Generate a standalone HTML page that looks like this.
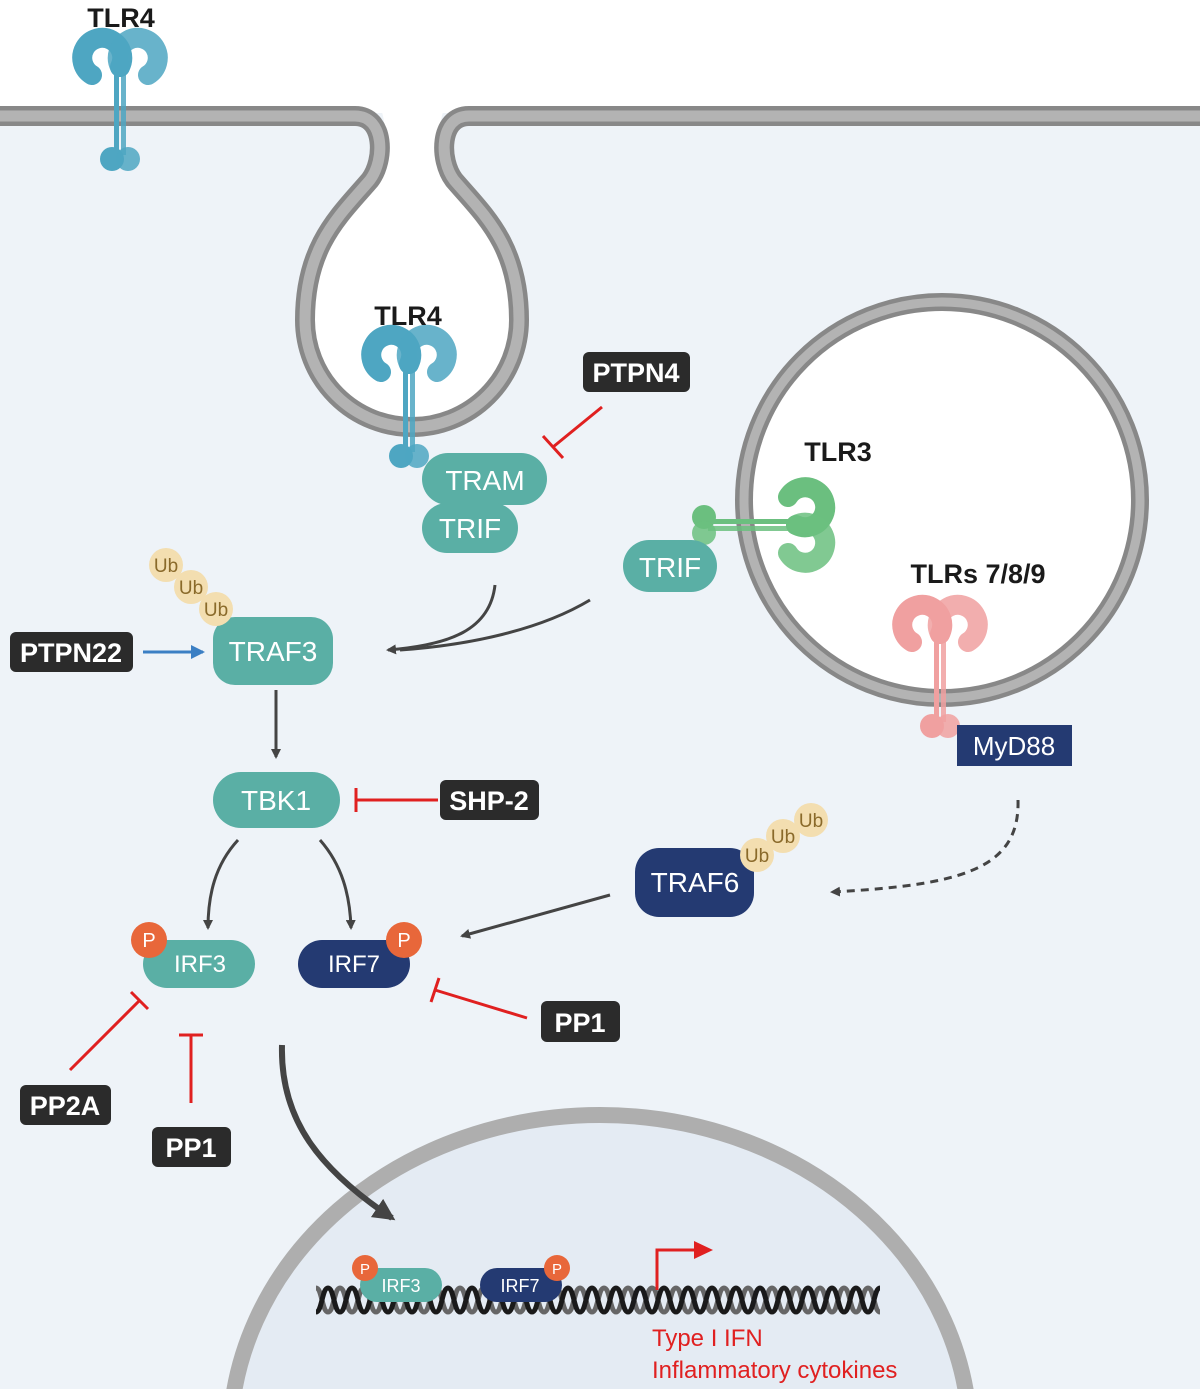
<!DOCTYPE html>
<html><head><meta charset="utf-8"><style>
html,body{margin:0;padding:0;background:#fff;width:1200px;height:1389px;overflow:hidden}
svg{display:block}
text{font-family:"Liberation Sans",sans-serif}
</style></head><body>
<svg width="1200" height="1389" viewBox="0 0 1200 1389" xmlns="http://www.w3.org/2000/svg">
<defs>
<marker id="ah" markerWidth="10" markerHeight="10" refX="8" refY="5" orient="auto" markerUnits="userSpaceOnUse"><path d="M0,0 L10,5 L0,10 Z" fill="#444"/></marker>
<marker id="ahb" markerWidth="14" markerHeight="14" refX="12" refY="7" orient="auto" markerUnits="userSpaceOnUse"><path d="M0,0 L14,7 L0,14 Z" fill="#3b7fc4"/></marker>
<marker id="ahl" markerWidth="22" markerHeight="22" refX="18" refY="11" orient="auto" markerUnits="userSpaceOnUse"><path d="M0,0 L22,11 L0,22 Z" fill="#444"/></marker>
<pattern id="dna" x="316" y="1282" width="24" height="36" patternUnits="userSpaceOnUse">
<path d="M0,6 C6,6 6,30 12,30 C18,30 18,6 24,6" fill="none" stroke="#666" stroke-width="5"/>
<path d="M-6,18 M0,30 C6,30 6,6 12,6 C18,6 18,30 24,30" fill="none" stroke="#1a1a1a" stroke-width="5"/>
</pattern>
<g id="rec">
<path d="M-28,-10 a20,20 0 1 1 28,-8" fill="none" stroke="currentColor" stroke-width="20" stroke-linecap="round"/>
<path d="M28,-10 a20,20 0 1 0 -28,-8" fill="none" stroke="currentColor" stroke-width="20" stroke-linecap="round" opacity="0.85"/>
<rect x="-6" y="-12" width="5" height="82" fill="currentColor"/>
<rect x="1" y="-12" width="5" height="82" fill="currentColor" opacity="0.85"/>
<circle cx="-8" cy="74" r="12" fill="currentColor"/>
<circle cx="8" cy="74" r="12" fill="currentColor" opacity="0.85"/>
</g>
</defs>
<rect width="1200" height="1389" fill="#eef3f8"/>
<rect width="1200" height="113" fill="#fff"/>
<path d="M345,100 L375,100 C395,120 380,180 360,200 C310,240 300,270 300,320 A112,112 0 0 0 524,320 C524,270 514,240 464,200 C444,180 430,120 450,100 Z" fill="#fff"/>
<path d="M0,116 L355,116 C385,116 385,160 370,180 C340,215 305,245 305,320 A107,107 0 0 0 519,320 C519,245 484,215 454,180 C439,160 439,116 469,116 L1200,116" fill="none" stroke="#888" stroke-width="20"/>
<path d="M0,116 L355,116 C385,116 385,160 370,180 C340,215 305,245 305,320 A107,107 0 0 0 519,320 C519,245 484,215 454,180 C439,160 439,116 469,116 L1200,116" fill="none" stroke="#b3b3b3" stroke-width="11"/>
<circle cx="942" cy="500" r="198" fill="#fff" stroke="#888" stroke-width="18"/>
<circle cx="942" cy="500" r="198" fill="none" stroke="#b3b3b3" stroke-width="9"/>
<ellipse cx="600" cy="1440" rx="370" ry="325" fill="#e4ebf3" stroke="#aeaeae" stroke-width="16"/>
<use href="#rec" transform="translate(120,85)" style="color:#4ea6c2"/>
<use href="#rec" transform="translate(409,382)" style="color:#4ea6c2"/>
<use href="#rec" transform="translate(778,525) rotate(90)" style="color:#6bbf7f"/>
<use href="#rec" transform="translate(940,652)" style="color:#f0a0a0"/>
<text x="121" y="27" font-size="27" font-weight="bold" text-anchor="middle" fill="#1a1a1a">TLR4</text>
<text x="408" y="325" font-size="27" font-weight="bold" text-anchor="middle" fill="#1a1a1a">TLR4</text>
<text x="838" y="461" font-size="27" font-weight="bold" text-anchor="middle" fill="#1a1a1a">TLR3</text>
<text x="978" y="583" font-size="27" font-weight="bold" text-anchor="middle" fill="#1a1a1a">TLRs 7/8/9</text>
<g font-size="28" fill="#fff" text-anchor="middle">
<rect x="422" y="453" width="125" height="52" rx="26" fill="#5aafa5"/><text x="485" y="490">TRAM</text>
<rect x="422" y="503" width="96" height="50" rx="25" fill="#5aafa5"/><text x="470" y="538">TRIF</text>
<rect x="623" y="540" width="94" height="52" rx="26" fill="#5aafa5"/><text x="670" y="577">TRIF</text>
<rect x="213" y="617" width="120" height="68" rx="22" fill="#5aafa5"/><text x="273" y="661">TRAF3</text>
<rect x="213" y="772" width="127" height="56" rx="28" fill="#5aafa5"/><text x="276" y="810">TBK1</text>
<rect x="635" y="848" width="119" height="69" rx="24" fill="#243a72"/><text x="695" y="892">TRAF6</text>
<rect x="957" y="725" width="115" height="41" fill="#243a72"/><text x="1014" y="755" font-size="26">MyD88</text>
</g>
<g font-size="24" fill="#fff" text-anchor="middle">
<rect x="143" y="940" width="112" height="48" rx="24" fill="#5aafa5"/><text x="200" y="972">IRF3</text>
<rect x="298" y="940" width="112" height="48" rx="24" fill="#243a72"/><text x="354" y="972">IRF7</text>
</g>
<g fill="#e8673a"><circle cx="149" cy="940" r="18"/><circle cx="404" cy="940" r="18"/></g>
<g font-size="20" fill="#fff" text-anchor="middle"><text x="149" y="947">P</text><text x="404" y="947">P</text></g>
<g fill="#f3deb0">
<circle cx="166" cy="565" r="17"/><circle cx="191" cy="587" r="17"/><circle cx="216" cy="609" r="17"/>
<circle cx="757" cy="855" r="17"/><circle cx="783" cy="836" r="17"/><circle cx="811" cy="820" r="17"/>
</g>
<g font-size="19" fill="#8a6a2a" text-anchor="middle">
<text x="166" y="572">Ub</text><text x="191" y="594">Ub</text><text x="216" y="616">Ub</text>
<text x="757" y="862">Ub</text><text x="783" y="843">Ub</text><text x="811" y="827">Ub</text>
</g>
<g font-size="27" font-weight="bold" fill="#fff" text-anchor="middle">
<rect x="583" y="352" width="107" height="40" rx="6" fill="#2b2b2b"/><text x="636" y="382">PTPN4</text>
<rect x="10" y="632" width="123" height="40" rx="6" fill="#2b2b2b"/><text x="71" y="662">PTPN22</text>
<rect x="440" y="780" width="99" height="40" rx="6" fill="#2b2b2b"/><text x="489" y="810">SHP-2</text>
<rect x="541" y="1001" width="79" height="41" rx="6" fill="#2b2b2b"/><text x="580" y="1032">PP1</text>
<rect x="20" y="1085" width="91" height="40" rx="6" fill="#2b2b2b"/><text x="65" y="1115">PP2A</text>
<rect x="152" y="1127" width="79" height="40" rx="6" fill="#2b2b2b"/><text x="191" y="1157">PP1</text>
</g>
<g stroke="#e02020" stroke-width="3" fill="none">
<path d="M602,407 L553,447 M543,436 L563,458"/>
<path d="M438,800 L356,800 M356,788 L356,812"/>
<path d="M527,1018 L435,990 M439,978 L431,1002"/>
<path d="M70,1070 L140,1000 M131,992 L148,1009"/>
<path d="M191,1103 L191,1035 M179,1035 L203,1035"/>
</g>
<g stroke="#444" stroke-width="3" fill="none">
<path d="M495,585 C490,630 450,645 388,650" marker-end="url(#ah)"/>
<path d="M590,600 C540,630 470,645 400,650"/>
<path d="M276,690 L276,757" marker-end="url(#ah)"/>
<path d="M238,840 C215,865 208,895 208,928" marker-end="url(#ah)"/>
<path d="M320,840 C342,865 350,895 351,928" marker-end="url(#ah)"/>
<path d="M610,895 L462,936" marker-end="url(#ah)"/>
<path d="M1018,800 C1020,870 960,885 832,892" stroke-dasharray="8,6" marker-end="url(#ah)"/>
<path d="M282,1045 C280,1120 320,1170 392,1218" stroke-width="6" marker-end="url(#ahl)"/>
</g>
<path d="M143,652 L203,652" stroke="#3b7fc4" stroke-width="3" marker-end="url(#ahb)"/>
<rect x="316" y="1282" width="564" height="36" fill="url(#dna)"/>
<rect x="360" y="1268" width="82" height="34" rx="17" fill="#5aafa5"/>
<rect x="480" y="1268" width="82" height="34" rx="17" fill="#243a72"/>
<circle cx="365" cy="1268" r="13" fill="#e8673a"/><circle cx="557" cy="1268" r="13" fill="#e8673a"/>
<g font-size="18" fill="#fff" text-anchor="middle">
<text x="401" y="1292">IRF3</text><text x="520" y="1292">IRF7</text>
<text x="365" y="1274" font-size="15">P</text><text x="557" y="1274" font-size="15">P</text>
</g>
<path d="M657,1290 L657,1250 L696,1250" fill="none" stroke="#e02020" stroke-width="3"/>
<path d="M694,1241 L713,1250 L694,1259 Z" fill="#e02020"/>
<text x="652" y="1346" font-size="24" fill="#e02020">Type I IFN</text>
<text x="652" y="1378" font-size="24" fill="#e02020">Inflammatory cytokines</text>
</svg>
</body></html>
